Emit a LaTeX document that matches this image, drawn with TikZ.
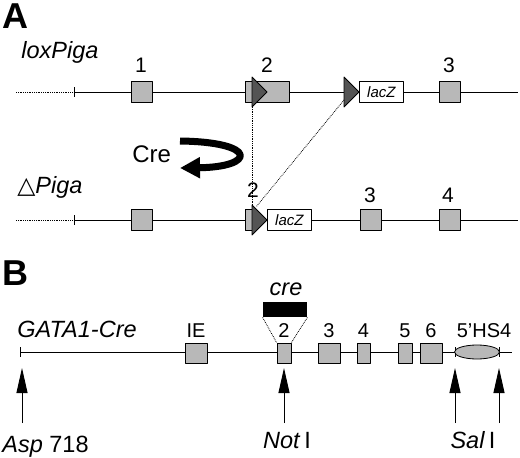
\documentclass[tikz,border=0pt]{standalone}
\usepackage{fontspec}
\setmainfont{Liberation Sans}
\newfontfamily\symfont{DejaVu Sans}
\usetikzlibrary{arrows.meta,shapes.geometric}
\definecolor{exongray}{gray}{0.72}
\definecolor{loxgray}{gray}{0.33}
\tikzset{
  exon/.style={draw, fill=exongray, minimum width=21pt, minimum height=21pt, inner sep=0pt},
  lacz/.style={draw, fill=white, minimum width=44pt, minimum height=21pt, inner sep=0pt, font=\fontsize{15}{17}\selectfont\itshape},
  num/.style={font=\fontsize{21}{24}\selectfont, inner sep=0pt, anchor=base},
  bnum/.style={font=\fontsize{20}{23}\selectfont, inner sep=0pt, anchor=base},
  gname/.style={font=\fontsize{23.5}{27}\selectfont, inner sep=0pt, anchor=base west},
  panel/.style={font=\fontsize{36}{40}\selectfont\bfseries, inner sep=0pt, anchor=base west},
  site/.style={-{Triangle[length=25pt,width=11pt]}, line width=0.9pt},
}
\begin{document}
\begin{tikzpicture}[x=1pt, y=-1pt, line width=0.8pt, line join=round]
\useasboundingbox (0,0) rectangle (520,458);
% panel A
\node[panel] (pa) at (2,28) {A};
\node[gname] (loxname) at (21,58) {\textit{loxPiga}};
\node[gname] (delname) at (17,193) {{\symfont △}\textit{Piga}};
\foreach \y in {92,220} {
  \draw[densely dotted] (16,\y) -- (74,\y);
  \draw (74,\y) -- (518,\y);
  \draw (74,\y-5) -- (74,\y+5);
}
% floxed allele
\node[exon] (a1) at (141.5,92) {};
\node[exon, minimum width=44pt, anchor=west] (a2) at (245,92) {};
\node[lacz, anchor=west] (alz) at (359,92) {lacZ};
\node[exon] (a3) at (449.5,92) {};
\node[num] at (141,72) {1};
\node[num] at (267,72) {2};
\node[num] at (449,72) {3};
% deleted allele
\node[exon] (d1) at (141.5,220) {};
\node[exon, minimum width=7pt, anchor=west] (d2) at (245,220) {};
\node[lacz, anchor=west] (dlz) at (267,220) {lacZ};
\node[exon] (d3) at (370.5,220) {};
\node[exon] (d4) at (450,220) {};
\node[num] at (253,197) {2};
\node[num] at (370,202) {3};
\node[num] at (448,202) {4};
% loxP sites
\foreach \x/\y in {252/92, 344/92, 252/220}
  \filldraw[fill=loxgray] (\x,\y-15) -- ++(15,15) -- ++(-15,15) -- cycle;
\coordinate (loxa) at (252,107);
\coordinate (loxb) at (344,100);
\coordinate (loxc) at (252,205);
\coordinate (loxd) at (256,207);
\draw[densely dotted] (loxa) -- (loxc);
\draw[densely dotted] (loxb) -- (loxd);
% Cre
\node[font=\fontsize{24}{28}\selectfont, inner sep=0pt, anchor=base west] (cre) at (132,162) {Cre};
\draw[line width=7pt, -{Triangle[length=20pt,width=20pt]}] (180,141) .. controls (258,142) and (256,167) .. (180,168);
% panel B
\node[panel] (pb) at (2,285) {B};
\node[gname] (gata) at (17,337) {\textit{GATA1-Cre}};
\draw (20,352) -- (512,352);
\foreach \x in {20,455,499} \draw (\x,347) -- (\x,357);
\foreach \nm/\x/\w/\t in {ie/196/22/IE, b2/284/14/2, b3/329/22/3, b4/363.5/13/4, b5/405/14/5, b6/431/22/6} {
  \node[exon, minimum width=\w pt, minimum height=20pt] (\nm) at (\x,353) {};
  \node[bnum] at (\x,337) {\t};
}
\node[draw, fill=exongray, ellipse, minimum width=45pt, minimum height=14pt, inner sep=0pt] (hs4) at (477,352) {};
\node[bnum] at (484,337) {5'HS4};
\node[fill=black, minimum width=44pt, minimum height=15pt, inner sep=0pt] (crebox) at (285,309.5) {};
\node[gname, anchor=base] at (286,295) {\textit{cre}};
\draw[densely dotted] (crebox.south west) -- (b2.north west);
\draw[densely dotted] (crebox.south east) -- (b2.north east);
% restriction sites
\foreach \x in {22,284,455,499} \draw[site] (\x,423) -- (\x,368);
\node[gname] (asp) at (2,452) {\textit{Asp} 718};
\node[gname, anchor=base] (noti) at (287,448) {\textit{Not}\,I};
\node[gname, anchor=base] (sali) at (473,448) {\textit{Sal}\,I};
\end{tikzpicture}
\end{document}
